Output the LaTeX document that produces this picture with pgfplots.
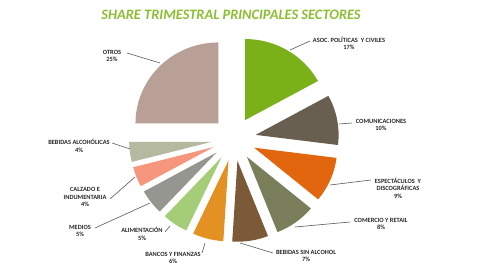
\documentclass[border=0pt]{standalone}
\usepackage{pgfplots}
\pgfplotsset{compat=1.18}
\usepackage{pgfplotstable}
\usepackage{fontspec}
\setmainfont{Carlito}
\definecolor{cA}{RGB}{122,176,24}
\definecolor{cB}{RGB}{104,95,80}
\definecolor{cC}{RGB}{226,102,14}
\definecolor{cD}{RGB}{122,126,90}
\definecolor{cE}{RGB}{125,90,55}
\definecolor{cF}{RGB}{228,145,35}
\definecolor{cG}{RGB}{165,205,120}
\definecolor{cH}{RGB}{150,150,145}
\definecolor{cI}{RGB}{245,150,125}
\definecolor{cJ}{RGB}{180,185,160}
\definecolor{cK}{RGB}{185,160,150}
\definecolor{labgray}{RGB}{40,40,40}
\definecolor{titlegreen}{RGB}{140,190,50}
\pgfplotstableread[col sep=comma]{
sector,value,col
Asoc,17,cA
Comunicaciones,10,cB
Espectaculos,9,cC
Comercio,8,cD
BebidasSin,7,cE
Bancos,6,cF
Alimentacion,5,cG
Medios,5,cH
Calzado,4,cI
BebidasAlc,4,cJ
Otros,25,cK
}\piedata
\begin{document}
\begin{tikzpicture}
\begin{axis}[width=480pt,height=270pt,scale only axis,xmin=0,xmax=480,ymin=0,ymax=270,hide axis,clip=false]
\path (rel axis cs:0,0) rectangle (rel axis cs:1,1);
\gdef\cum{0}
\pgfplotstablegetrowsof{\piedata}
\pgfmathtruncatemacro\nrows{\pgfplotsretval-1}
\foreach \i in {0,...,\nrows}{
  \pgfplotstablegetelem{\i}{value}\of\piedata \let\val\pgfplotsretval
  \pgfplotstablegetelem{\i}{col}\of\piedata \let\slicecol\pgfplotsretval
  \pgfmathsetmacro\sang{90-\cum*3.6}
  \pgfmathsetmacro\eang{90-(\cum+\val)*3.6}
  \pgfmathsetmacro\midang{(\sang+\eang)/2}
  \pgfmathsetmacro\px{234+22*cos(\midang)}
  \pgfmathsetmacro\py{131+22*sin(\midang)}
  \edef\temp{\noexpand\fill[\slicecol] (axis cs:\px,\py) -- ++(\sang:83pt and 81pt) arc[start angle=\sang,end angle=\eang,x radius=83pt,y radius=81pt] -- cycle;}
  \temp
  \pgfmathsetmacro\newcum{\cum+\val}
  \global\let\cum\newcum
}
\node[font=\fontsize{14.4}{16}\selectfont\bfseries\itshape,text=titlegreen] at (axis cs:231,255) {SHARE TRIMESTRAL PRINCIPALES SECTORES};
\tikzset{lab/.style={font=\fontsize{6.4}{7.6}\selectfont\bfseries,text=labgray,align=center,inner sep=0pt}}
\draw[gray!70!black,line width=0.6pt] (axis cs:290,220) -- (axis cs:310,229);
\draw[gray!70!black,line width=0.6pt] (axis cs:339,146) -- (axis cs:352,147);
\draw[gray!70!black,line width=0.6pt] (axis cs:330,85) -- (axis cs:371,90);
\draw[gray!70!black,line width=0.6pt] (axis cs:295,43) -- (axis cs:350,48);
\draw[gray!70!black,line width=0.6pt] (axis cs:240,27) -- (axis cs:273,17);
\draw[gray!70!black,line width=0.6pt] (axis cs:205,27) -- (axis cs:202,17);
\draw[gray!70!black,line width=0.6pt] (axis cs:165,38) -- (axis cs:170,44);
\draw[gray!70!black,line width=0.6pt] (axis cs:95,42) -- (axis cs:150,67);
\draw[gray!70!black,line width=0.6pt] (axis cs:110,71) -- (axis cs:135,93);
\draw[gray!70!black,line width=0.6pt] (axis cs:112,127) -- (axis cs:130,121);
\draw[gray!70!black,line width=0.6pt] (axis cs:127,217) -- (axis cs:160,207);
\node[lab] at (axis cs:349,226.5) {ASOC. POLÍTICAS \ Y CIVILES\\17\%};
\node[lab] at (axis cs:381,145) {COMUNICACIONES\\10\%};
\node[lab] at (axis cs:398,82) {ESPECTÁCULOS \ Y\\DISCOGRÁFICAS\\9\%};
\node[lab] at (axis cs:381,46) {COMERCIO Y RETAIL\\8\%};
\node[lab] at (axis cs:306,14) {BEBIDAS SIN ALCOHOL\\7\%};
\node[lab] at (axis cs:173,12) {BANCOS Y FINANZAS\\6\%};
\node[lab] at (axis cs:142,36) {ALIMENTACIÓN\\5\%};
\node[lab] at (axis cs:80,39) {MEDIOS\\5\%};
\node[lab] at (axis cs:85,73) {CALZADO E\\INDUMENTARIA\\4\%};
\node[lab] at (axis cs:79,124) {BEBIDAS ALCOHÓLICAS\\4\%};
\node[lab] at (axis cs:112,214) {OTROS\\25\%};
\end{axis}
\end{tikzpicture}
\end{document}
